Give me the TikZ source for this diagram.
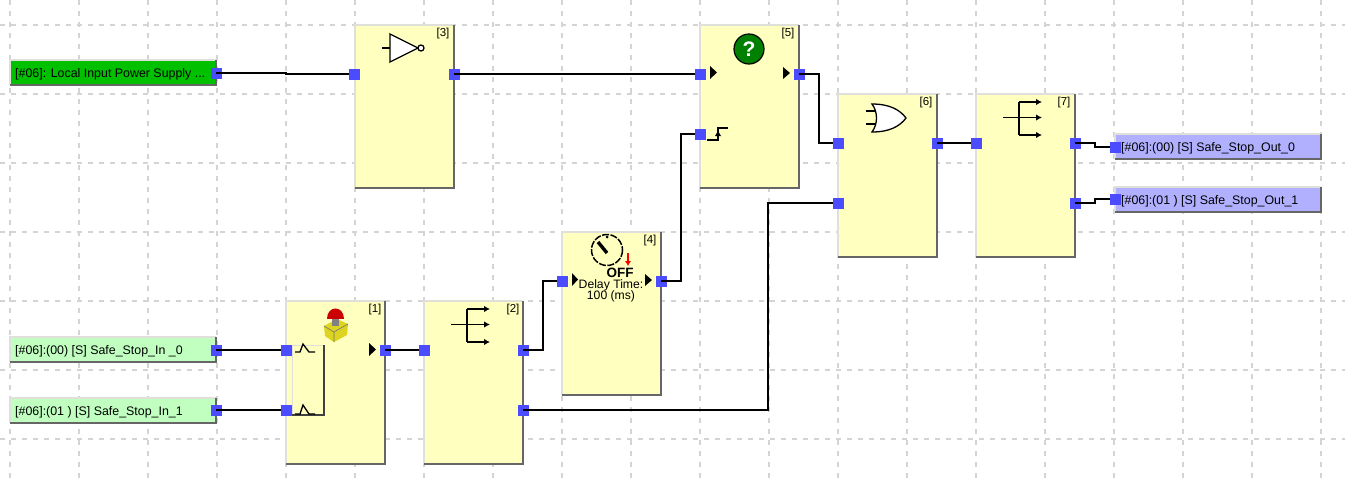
\documentclass[tikz,border=0pt]{standalone}
\usepackage{fontspec}
\setmainfont{Liberation Sans}
\usetikzlibrary{positioning,arrows.meta}
\definecolor{blockfill}{HTML}{FFFFC0}
\definecolor{portblue}{HTML}{4C4CFF}
\definecolor{gridgray}{HTML}{D4D4D4}
\definecolor{edgelight}{HTML}{E0E0DA}
\definecolor{edgedark}{HTML}{666666}
\definecolor{ingreen}{HTML}{00C000}
\definecolor{inmint}{HTML}{C0FFC0}
\definecolor{outblue}{HTML}{B0B0FF}
\tikzset{
  fblock/.style={rectangle,fill=blockfill,minimum width=99pt,minimum height=163pt,inner sep=0pt,outer sep=0pt},
  iobox/.style={rectangle,minimum width=206pt,minimum height=25pt,inner sep=0pt,outer sep=0pt},
  iotext/.style={inner sep=0pt,anchor=west,font=\fontsize{12.4}{13}\selectfont},
  blocklabel/.style={inner sep=0pt,font=\fontsize{11.5}{12}\selectfont},
  port/.style={rectangle,fill=portblue,minimum size=11pt,inner sep=0pt,outer sep=0pt},
  wire/.style={black,line width=1.15pt},
  gridline/.style={gridgray,line width=1.3pt,dash pattern=on 5pt off 6pt},
  lightedge/.style={edgelight,line width=2pt},
  darkedge/.style={edgedark,line width=2.6pt},
  icon/.style={black,line width=1.3pt},
  tri/.style={fill=black,draw=none},
  fanarrow/.style={black,line width=1.4pt,-{Latex[length=6pt,width=6.5pt]}}
}
\newcommand{\bevelbox}[1]{%
  \draw[lightedge] (#1.south west)--(#1.north west)--(#1.north east);
  \draw[darkedge] (#1.north east)--(#1.south east)--(#1.south west);}
\newcommand{\fanicon}[2]{%
  \begin{scope}[shift={(#1,#2)}]
    \draw[icon] (43,8)--(43,41);
    \draw[fanarrow] (27,23.5)--(66,23.5);
    \draw[fanarrow] (43,8)--(66,8);
    \draw[fanarrow] (43,41)--(66,41);
  \end{scope}}
\begin{document}
\begin{tikzpicture}[x=1pt,y=-1pt]
\useasboundingbox (0,0) rectangle (1345,480);
% grid
\foreach \gx in {10,79,...,1321} \draw[gridline] (\gx,0)--(\gx,480);
\foreach \gy in {25,94,...,439} \draw[gridline] (0,\gy)--(1345,\gy);
% blocks
\node[fblock,anchor=north west] (b1) at (286,301) {};
\node[fblock,anchor=north west] (b2) at (424,301) {};
\node[fblock,anchor=north west] (b3) at (355,25) {};
\node[fblock,anchor=north west] (b4) at (562,232) {};
\node[fblock,anchor=north west] (b5) at (700,25) {};
\node[fblock,anchor=north west] (b6) at (838,94) {};
\node[fblock,anchor=north west] (b7) at (976,94) {};
\foreach \b in {b1,b2,b3,b4,b5,b6,b7} {\bevelbox{\b}}
\node[blocklabel] (l1) at (375,310) {[1]};
\node[blocklabel] (l2) at (513,310) {[2]};
\node[blocklabel] (l3) at (443,33.5) {[3]};
\node[blocklabel] (l4) at (650,241) {[4]};
\node[blocklabel] (l5) at (788,33.5) {[5]};
\node[blocklabel] (l6) at (926,103) {[6]};
\node[blocklabel] (l7) at (1064,103) {[7]};
% io boxes
\node[iobox,fill=ingreen,anchor=north west] (ipw) at (10,60) {};
\node[iobox,fill=inmint,anchor=north west] (in0) at (10,337) {};
\node[iobox,fill=inmint,anchor=north west] (in1) at (10,398) {};
\node[iobox,fill=outblue,anchor=north west] (out0) at (1115,134) {};
\node[iobox,fill=outblue,anchor=north west] (out1) at (1115,187) {};
\foreach \b in {ipw,in0,in1,out0,out1} {\bevelbox{\b}}
\node[iotext] (tpw) at (15,74) {[\#06]: Local Input Power Supply ...};
\node[iotext] (t0) at (15,351) {[\#06]:(00) [S] Safe\_Stop\_In \_0};
\node[iotext] (t1) at (15,412) {[\#06]:(01 ) [S] Safe\_Stop\_In\_1};
\node[iotext] (t2) at (1121,148.5) {[\#06]:(00) [S] Safe\_Stop\_Out\_0};
\node[iotext] (t3) at (1121,201.5) {[\#06]:(01 ) [S] Safe\_Stop\_Out\_1};
% ports
\node[port] (ppw) at (216,73) {};
\node[port] (pi0) at (216,350) {};
\node[port] (pi1) at (216,410) {};
\node[port] (b1a) at (286,350) {};
\node[port] (b1b) at (286,410) {};
\node[port] (b1o) at (385,350) {};
\node[port] (b2a) at (424,350) {};
\node[port] (b2o) at (523,350) {};
\node[port] (b2p) at (523,410) {};
\node[port] (b3a) at (354,74) {};
\node[port] (b3o) at (454,74) {};
\node[port] (b4a) at (562,281) {};
\node[port] (b4o) at (661,281) {};
\node[port] (b5a) at (700,74) {};
\node[port] (b5b) at (700,134) {};
\node[port] (b5o) at (799,74) {};
\node[port] (b6a) at (838,143) {};
\node[port] (b6b) at (838,203) {};
\node[port] (b6o) at (937,143) {};
\node[port] (b7a) at (976,143) {};
\node[port] (b7o) at (1075,143) {};
\node[port] (b7p) at (1075,203) {};
\node[port] (po0) at (1115,147) {};
\node[port] (po1) at (1115,199) {};
% wires
\draw[wire] (ppw.center) -- (286,73) -- (286,74) -- (b3a.west);
\draw[wire] (b3o.center) -- (b5a.west);
\draw[wire] (pi0.center) -- (b1a.west);
\draw[wire] (pi1.center) -- (b1b.west);
\draw[wire] (b1o.center) -- (b2a.west);
\draw[wire] (b2o.center) -- (543,350) -- (543,281) -- (b4a.west);
\draw[wire] (b2p.center) -- (768,410) -- (768,203) -- (b6b.west);
\draw[wire] (b4o.center) -- (681,281) -- (681,134) -- (b5b.west);
\draw[wire] (b5o.center) -- (819,74) -- (819,143) -- (b6a.west);
\draw[wire] (b6o.center) -- (b7a.west);
\draw[wire] (b7o.center) -- (1095,143) -- (1095,147) -- (po0.west);
\draw[wire] (b7p.center) -- (1095,203) -- (1095,199) -- (po1.west);
% icon 3: inverter
\draw[icon] (382,48)--(390,48);
\draw[icon,fill=white] (390,34)--(418,48)--(390,62)--cycle;
\draw[icon,fill=white] (421,48) circle (3);
% fan-out icons
\fanicon{424}{301}
\fanicon{976}{94}
% icon 6: or gate
\draw[icon] (866,111)--(877,111) (866,124)--(877,124);
\draw[icon,fill=white] (872,104) .. controls (890,104) and (900,110) .. (906,118) .. controls (900,126) and (890,132) .. (872,132) .. controls (878,124) and (878,112) .. (872,104) -- cycle;
% icon 5: question
\draw[black,line width=1.2pt,fill=green!50!black] (749,49) circle (15);
\node[inner sep=0pt,text=white,font=\fontsize{21}{21}\selectfont\bfseries] (qm) at (749,49) {?};
\fill[tri] (710,66)--(717,72.5)--(710,79)--cycle;
\fill[tri] (783,67)--(790,73)--(783,79)--cycle;
\draw[icon] (707,140)--(718,140)--(718,128)--(728,128);
\fill[tri] (718,131)--(721,136)--(715,136)--cycle;
% icon 4: delay
\draw[black,line width=1.5pt,dash pattern=on 7pt off 1.5pt] (607,250) circle (15.5);
\draw[black,line width=3.4pt] (598,242)--(607,253);
\fill[black] (607,237) circle (1.5);
\draw[red,line width=1.6pt,-{Latex[length=5pt,width=6.5pt]}] (628,253)--(628,266);
\node[inner sep=0pt,font=\fontsize{13.5}{14}\selectfont\bfseries] (off) at (620,273) {OFF};
\node[inner sep=0pt,font=\fontsize{12.2}{13}\selectfont] (dly) at (611,285) {Delay Time:};
\node[inner sep=0pt,font=\fontsize{12.2}{13}\selectfont] (ms) at (611,296) {100 (ms)};
\fill[tri] (572,273)--(578,279.5)--(572,286)--cycle;
\fill[tri] (645,274)--(652,280)--(645,286)--cycle;
% icon 1: e-stop and contacts
\fill[yellow!85!black] (324,326)--(337,319)--(348,324)--(347,335)--(334,342)--(325,336)--cycle;
\draw[black!55,line width=.6pt] (324,326)--(334,332)--(348,324) (334,332)--(334,342);
\fill[gray] (332,316) rectangle (339,326);
\fill[red!80!black] (327,319) .. controls (327,305) and (344,305) .. (344,319) -- cycle;
\draw[lightedge,line width=1pt] (292,415)--(292,345)--(324,345);
\draw[black!75,line width=1.1pt] (324,345)--(324,415)--(292,415);
\draw[icon] (295,352)--(300,352)--(303,344)--(309,352)--(315,352);
\draw[icon] (295,414)--(300,414)--(303,405)--(309,414)--(315,414);
\fill[tri] (369,343)--(376,349.5)--(369,356)--cycle;
\end{tikzpicture}
\end{document}
